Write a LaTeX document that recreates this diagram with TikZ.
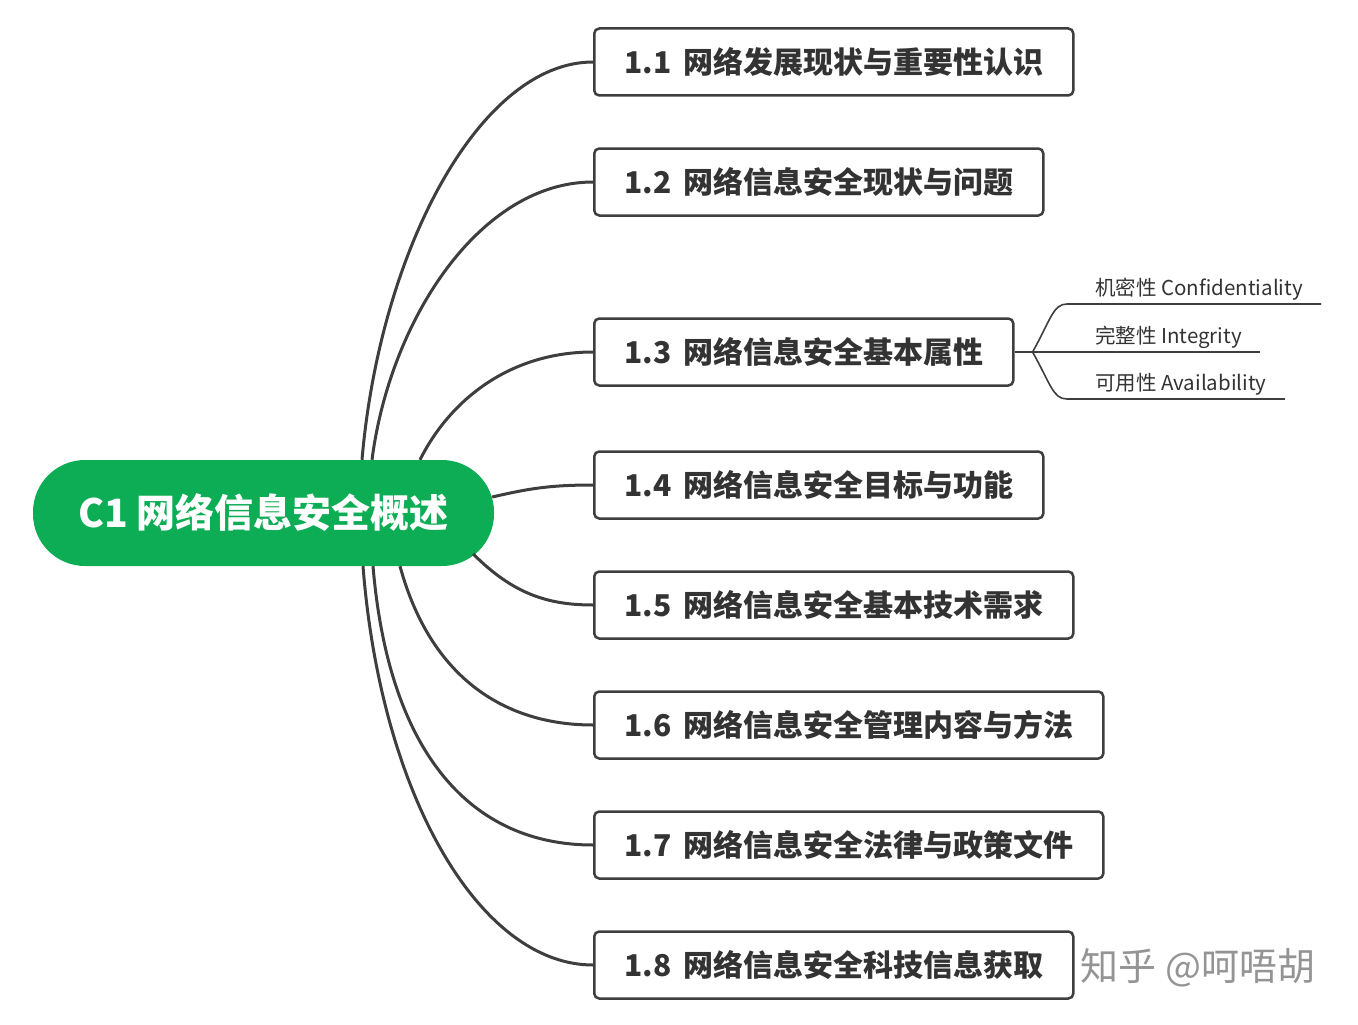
\documentclass[tikz,border=0pt]{standalone}
\usepackage{fontspec}
\setmainfont{Noto Sans CJK SC}
\definecolor{gruen}{RGB}{12,173,84}
\definecolor{linie}{RGB}{62,62,62}
\begin{document}
\begin{tikzpicture}[
      x=1pt, y=-1pt,
      wurzel/.style={fill=gruen, rounded corners=52pt, minimum width=461pt, minimum height=106pt, text=white, font=\fontsize{39}{39}\selectfont\bfseries},
      thema/.style={draw=linie, line width=2.5pt, rounded corners=5pt, fill=white, minimum height=67pt, inner xsep=30pt, anchor=west, text=black!80, font=\fontsize{30}{30}\selectfont\bfseries},
      blatt/.style={anchor=south west, inner xsep=0pt, inner ysep=5pt, text depth=3pt, text=black!80, font=\fontsize{20.5}{20.5}\selectfont},
      ast/.style={draw=linie, line width=3pt},
      zweig/.style={draw=linie, line width=1.6pt}
    ]
      \useasboundingbox (0,0) rectangle (1358,1025);

      \node[wurzel] (kern) at (263.5,513) {C1 网络信息安全概述};

      \node[thema] (t1) at (593,62) {1.1\hspace{0.4em}网络发展现状与重要性认识};
      \node[thema] (t2) at (593,182) {1.2\hspace{0.4em}网络信息安全现状与问题};
      \node[thema] (t3) at (593,352) {1.3\hspace{0.4em}网络信息安全基本属性};
      \node[thema] (t4) at (593,485) {1.4\hspace{0.4em}网络信息安全目标与功能};
      \node[thema] (t5) at (593,605) {1.5\hspace{0.4em}网络信息安全基本技术需求};
      \node[thema] (t6) at (593,725) {1.6\hspace{0.4em}网络信息安全管理内容与方法};
      \node[thema] (t7) at (593,845) {1.7\hspace{0.4em}网络信息安全法律与政策文件};
      \node[thema] (t8) at (593,965) {1.8\hspace{0.4em}网络信息安全科技信息获取};

      \node[blatt] (b1) at (1095,304) {机密性 Confidentiality};
      \node[blatt] (b2) at (1095,352) {完整性 Integrity};
      \node[blatt] (b3) at (1095,399) {可用性 Availability};

      % Aeste vom Kern zu den Themen
      \draw[ast] ([xshift=98.5pt]kern.north) .. controls +(18,-210) and +(-113,0) .. (t1.west);
      \draw[ast] ([xshift=108.5pt]kern.north) .. controls +(18,-140) and +(-113,0) .. (t2.west);
      \draw[ast] ([xshift=156.5pt]kern.north) .. controls +(30,-60) and +(-83,0) .. (t3.west);
      \draw[ast] ([shift={(-2pt,16pt)}]kern.east) .. controls +(35,-8) and +(-45,0) .. (t4.west);
      \draw[ast] ([shift={(-21pt,-41pt)}]kern.east) .. controls +(40,40) and +(-45,0) .. (t5.west);
      \draw[ast] ([xshift=136.5pt]kern.south) .. controls +(30,110) and +(-90,0) .. (t6.west);
      \draw[ast] ([xshift=109.5pt]kern.south) .. controls +(16,190) and +(-120,0) .. (t7.west);
      \draw[ast] ([xshift=99.5pt]kern.south) .. controls +(18,230) and +(-113,0) .. (t8.west);

      % Zweige zu den Eigenschaften
      \coordinate (gabel) at ([xshift=18pt]t3.east);
      \draw[zweig] (t3.east) -- (gabel);
      \draw[zweig] (gabel) .. controls +(18,-32) and +(-14,0) .. ([xshift=-28pt]b1.south west) -- ([xshift=18pt]b1.south east);
      \draw[zweig] (gabel) -- ([xshift=18pt]b2.south east);
      \draw[zweig] (gabel) .. controls +(18,32) and +(-14,0) .. ([xshift=-28pt]b3.south west) -- ([xshift=18pt]b3.south east);

      \node[text=black!42, font=\fontsize{38}{38}\selectfont] (marke) at (1198,968) {知乎 @呵唔胡};
    \end{tikzpicture}
\end{document}
